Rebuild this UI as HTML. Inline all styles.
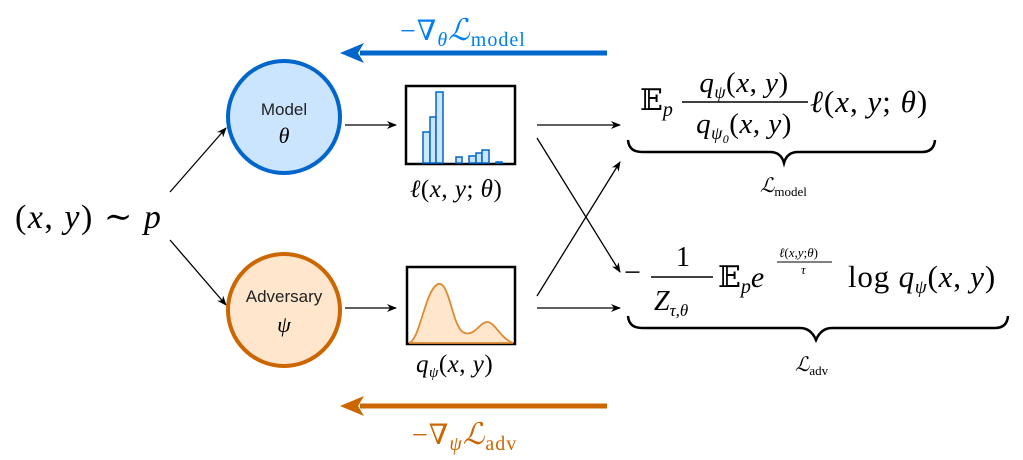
<!DOCTYPE html>
<html><head><meta charset="utf-8"><style>
html,body{margin:0;padding:0;background:#fff;}
svg{display:block;}
text{font-family:"Liberation Serif","DejaVu Serif",serif;}
.i{font-style:italic;}
.s{font-family:"Liberation Sans","DejaVu Sans",sans-serif;}
</style></head><body>
<svg width="1023" height="460" viewBox="0 0 1023 460" xmlns="http://www.w3.org/2000/svg">
<defs>
<marker id="a" markerWidth="10" markerHeight="8" refX="9" refY="4" orient="auto" markerUnits="userSpaceOnUse"><path d="M0,0 L10,4 L0,8 L3,4 Z" fill="#000"/></marker>
</defs>
<line x1="607" y1="53" x2="360" y2="53" stroke="#0066cc" stroke-width="5"/>
<path d="M340,53 L364,43 L358,53 L364,63 Z" fill="#0066cc"/>
<text x="400" y="40" font-size="28" fill="#0080f0" letter-spacing="1">−∇<tspan class="i" font-size="20" dy="6">θ</tspan><tspan class="i" dy="-6" font-size="30">ℒ</tspan><tspan font-size="20" dy="6">model</tspan></text>
<line x1="607" y1="406" x2="360" y2="406" stroke="#cc6600" stroke-width="5"/>
<path d="M340,406 L364,396 L358,406 L364,416 Z" fill="#cc6600"/>
<text x="412" y="444" font-size="28" fill="#cc6600" letter-spacing="1">−∇<tspan class="i" font-size="20" dy="6">ψ</tspan><tspan class="i" dy="-6" font-size="30">ℒ</tspan><tspan font-size="20" dy="6">adv</tspan></text>
<text x="15" y="228" font-size="34" letter-spacing="1.5">(<tspan class="i">x</tspan>, <tspan class="i">y</tspan>) ∼ <tspan class="i">p</tspan></text>
<g stroke="#000" stroke-width="1.3" fill="none" marker-end="url(#a)">
<line x1="170" y1="192" x2="226" y2="128"/>
<line x1="170" y1="240" x2="226" y2="305"/>
<line x1="345" y1="125" x2="396" y2="125"/>
<line x1="345" y1="308" x2="396" y2="308"/>
<line x1="537" y1="125" x2="620" y2="125"/>
<line x1="537" y1="138" x2="620" y2="272"/>
<line x1="537" y1="296" x2="620" y2="162"/>
<line x1="537" y1="308" x2="620" y2="308"/>
</g>
<circle cx="284" cy="117" r="56" fill="#cce5ff" stroke="#0066cc" stroke-width="4"/>
<text class="s" x="284" y="115" font-size="17" text-anchor="middle" fill="#222">Model</text>
<text class="i" x="284" y="143" font-size="22" text-anchor="middle">θ</text>
<circle cx="284" cy="310" r="56" fill="#ffe6cc" stroke="#cc6600" stroke-width="4"/>
<text class="s" x="284" y="302" font-size="17" text-anchor="middle" fill="#222">Adversary</text>
<text class="i" x="284" y="332" font-size="22" text-anchor="middle">ψ</text>
<rect x="406" y="86" width="109" height="78" fill="#fff" stroke="#000" stroke-width="2.5"/>
<g fill="#cce5ff" stroke="#0066cc" stroke-width="1.5">
<rect x="423" y="132" width="7" height="31"/>
<rect x="430" y="117" width="6" height="46"/>
<rect x="436" y="92" width="7" height="71"/>
<rect x="456" y="157" width="6" height="6"/>
<rect x="469" y="156" width="7" height="7"/>
<rect x="476" y="153" width="6" height="10"/>
<rect x="482" y="150" width="7" height="13"/>
<rect x="496" y="162" width="6" height="1"/>
</g>
<text x="410" y="197" font-size="25" letter-spacing="0.5"><tspan class="i">ℓ</tspan>(<tspan class="i">x</tspan>, <tspan class="i">y</tspan>; <tspan class="i">θ</tspan>)</text>
<rect x="407" y="267" width="108" height="77" fill="#fff" stroke="#000" stroke-width="2.5"/>
<path d="M409,343 C420,340 425,290 438,284 C450,280 452,330 465,333 C475,336 480,322 487,322 C495,322 500,338 513,343 Z" fill="#ffe6cc" stroke="#e08a30" stroke-width="1.8"/>
<text x="416" y="372" font-size="25" letter-spacing="0.5"><tspan class="i">q</tspan><tspan class="i" font-size="15" dy="5">ψ</tspan><tspan dy="-5">(</tspan><tspan class="i">x</tspan>, <tspan class="i">y</tspan>)</text>
<text x="640" y="110" font-size="30">𝔼<tspan class="i" font-size="20" dy="6">p</tspan></text>
<text x="744" y="92" font-size="29" text-anchor="middle" letter-spacing="0.5"><tspan class="i">q</tspan><tspan class="i" font-size="18" dy="6">ψ</tspan><tspan dy="-6">(</tspan><tspan class="i">x</tspan>, <tspan class="i">y</tspan>)</text>
<line x1="682" y1="102" x2="808" y2="102" stroke="#000" stroke-width="1.5"/>
<text x="744" y="133" font-size="29" text-anchor="middle" letter-spacing="0.5"><tspan class="i">q</tspan><tspan class="i" font-size="18" dy="6">ψ<tspan font-size="12" dy="4">0</tspan></tspan><tspan dy="-10">(</tspan><tspan class="i">x</tspan>, <tspan class="i">y</tspan>)</text>
<text x="810" y="112" font-size="31" letter-spacing="1"><tspan class="i">ℓ</tspan>(<tspan class="i">x</tspan>, <tspan class="i">y</tspan>; <tspan class="i">θ</tspan>)</text>
<path d="M628,140 Q629,152 642,152 L770,152 Q781,152 784,163 Q787,152 798,152 L922,152 Q934,152 935,140" fill="none" stroke="#000" stroke-width="2.5"/>
<text x="760" y="192" font-size="20"><tspan class="i">ℒ</tspan><tspan font-size="13" dy="4">model</tspan></text>
<text x="624" y="282" font-size="30">−</text>
<text x="683" y="266" font-size="28" text-anchor="middle">1</text>
<line x1="651" y1="277" x2="713" y2="277" stroke="#000" stroke-width="1.5"/>
<text x="654" y="310" font-size="28" class="i">Z<tspan font-size="17" dy="6">τ,θ</tspan></text>
<text x="718" y="287" font-size="30">𝔼<tspan class="i" font-size="20" dy="6">p</tspan><tspan class="i" dy="-6">e</tspan></text>
<text x="779" y="257" font-size="13"><tspan class="i">ℓ</tspan>(<tspan class="i">x</tspan>,<tspan class="i">y</tspan>;<tspan class="i">θ</tspan>)</text>
<line x1="777" y1="262" x2="832" y2="262" stroke="#000" stroke-width="1"/>
<text class="i" x="801" y="274" font-size="13">τ</text>
<text x="848" y="287" font-size="31" letter-spacing="0.8">log <tspan class="i">q</tspan><tspan class="i" font-size="19" dy="6">ψ</tspan><tspan dy="-6">(</tspan><tspan class="i">x</tspan>, <tspan class="i">y</tspan>)</text>
<path d="M628,316 Q629,328 642,328 L800,328 Q811,328 816,340 Q821,328 832,328 L995,328 Q1007,328 1008,316" fill="none" stroke="#000" stroke-width="2.5"/>
<text x="795" y="371" font-size="20"><tspan class="i">ℒ</tspan><tspan font-size="13" dy="4">adv</tspan></text>
</svg>
</body></html>
